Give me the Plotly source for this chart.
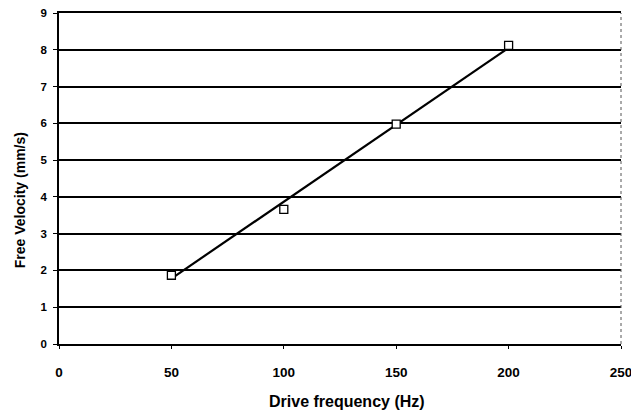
import plotly.graph_objects as go

# measured points
drive_freq = [50, 100, 150, 200]
free_velocity = [1.87, 3.66, 5.98, 8.12]

# straight trend line drawn through them (endpoints)
trend_freq = [50, 200]
trend_velocity = [1.78, 8.05]

x_ticks = [0, 50, 100, 150, 200, 250]
y_ticks = [0, 1, 2, 3, 4, 5, 6, 7, 8, 9]

FONT = "Liberation Sans, Arial, sans-serif"

fig = go.Figure()
fig.add_trace(go.Scatter(
    x=trend_freq, y=trend_velocity, mode="lines",
    line=dict(color="black", width=2.2),
    showlegend=False, hoverinfo="skip",
))
fig.add_trace(go.Scatter(
    x=drive_freq, y=free_velocity, mode="markers",
    marker=dict(symbol="square", size=8, color="white", line=dict(width=1.3, color="black")),
    showlegend=False,
))

# faint dotted right border, as in the scan
fig.add_shape(type="line", xref="paper", yref="paper", x0=1, x1=1, y0=0, y1=1,
              line=dict(color="#555", width=1, dash="dot"))

# axis titles as annotations so they sit where the scan has them
fig.add_annotation(text="<b>Drive frequency (Hz)</b>", xref="paper", yref="paper",
                   x=0.512, y=-0.175, xanchor="center", yanchor="middle",
                   showarrow=False, font=dict(family=FONT, size=16, color="black"))
fig.add_annotation(text="<b>Free Velocity (mm/s)</b>", xref="paper", yref="paper",
                   x=-0.069, y=0.435, xanchor="center", yanchor="middle", textangle=-90,
                   showarrow=False, font=dict(family=FONT, size=14, color="black"))

fig.update_layout(
    width=631, height=415,
    paper_bgcolor="white", plot_bgcolor="white",
    margin=dict(l=59, r=10, t=13, b=71),
    font=dict(family=FONT, color="black", size=11),
    xaxis=dict(
        range=[0, 250], tickvals=x_ticks, showgrid=False, zeroline=False,
        showline=True, mirror=True, linecolor="black", linewidth=1.8,
        ticks="outside", ticklen=3, tickcolor="black",
        ticklabelstandoff=12, ticklabeloverflow="allow", automargin=False,
        tickfont=dict(family=FONT, size=13.5, weight="bold"),
    ),
    yaxis=dict(
        range=[0, 9], tickvals=y_ticks, showgrid=True, gridcolor="black", gridwidth=1.8,
        zeroline=False, showline=True, linecolor="black", linewidth=1.5,
        ticks="outside", ticklen=4, tickcolor="black",
        ticklabelstandoff=4, automargin=False,
        tickfont=dict(family=FONT, size=11.5, weight="bold"),
    ),
)

# the page's default 8px body margin would shift the figure; drop it
fig.write_html("out.html", config={"displayModeBar": False},
               post_script="document.body.style.margin='0';")
